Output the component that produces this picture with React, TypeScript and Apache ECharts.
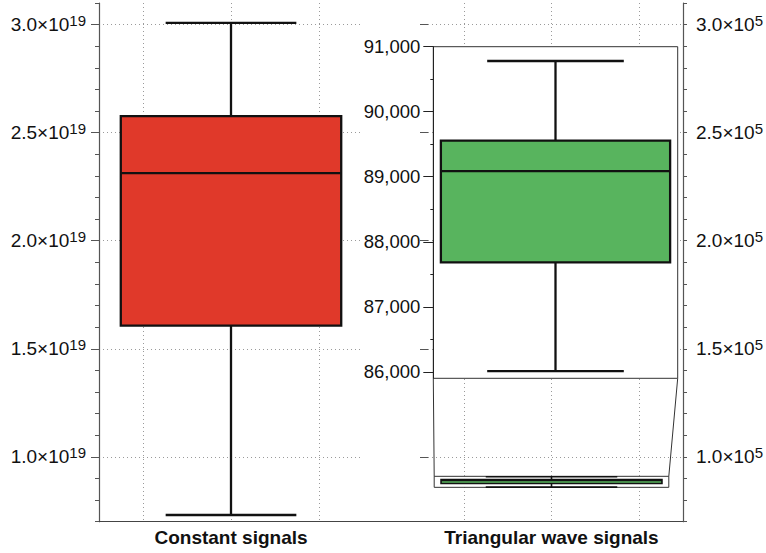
import React, { useEffect, useRef } from 'react';
import * as echarts from 'echarts';

// Category names shown under each panel
const categories = ['Constant signals', 'Triangular wave signals'];

// Box statistics: [minimum, lower quartile, median, upper quartile, maximum]
const constantStats = [0.731e19, 1.607e19, 2.313e19, 2.577e19, 3.008e19];
const triangularStats = [86010, 87683, 89085, 89554, 90780];

// Axis ranges and tick values
const leftRange = [0.7e19, 3.1e19];
const leftMinorStep = 0.1e19;
const leftTicks = [1.0e19, 1.5e19, 2.0e19, 2.5e19, 3.0e19];

const rightRange = [0.7e5, 3.1e5];
const rightMinorStep = 0.1e5;
const rightTicks = [1.0e5, 1.5e5, 2.0e5, 2.5e5, 3.0e5];

const insetRange = [85900, 91000];
const insetTicks = [86000, 87000, 88000, 89000, 90000, 91000];
const insetMinorTicks = [86500, 87500, 88500, 89500, 90500];

// Vertical grid positions on a 0..6 band scale
const bandScale = [0, 6];
const bandGridTicks = [1, 3, 5];

const FONT = '"Liberation Sans", Arial, Helvetica, sans-serif';
const AXIS = '#555';
const GRID = '#9a9a9a';

const W = 766;
const H = 553;
const TOP = 3;
const BOTTOM = 31.3;
const LEFT_PANEL = { left: 99, width: 264 };
const RIGHT_PANEL = { left: 420, width: 263 };
const INSET = { left: 433.3, width: 244.4, top: 46.7, height: 331.6 };
const SOURCE_FRACTION = 0.892;

function sciLabel(v: number) {
  const exp = Math.floor(Math.log10(v) + 1e-9);
  const mant = (v / Math.pow(10, exp)).toFixed(1);
  return `{m|${mant}×10}{e|${exp}}`;
}

const sciRich = {
  m: { fontSize: 19, fontFamily: FONT, color: '#111', lineHeight: 23 },
  e: { fontSize: 15, fontFamily: FONT, color: '#111', lineHeight: 15, verticalAlign: 'top' },
};

function boxRenderer(boxFrac: number, capFrac: number, color: string, lw: number) {
  return (_params: any, api: any) => {
    const cat = api.value(0);
    const lo = api.coord([cat, api.value(1)]);
    const q1 = api.coord([cat, api.value(2)]);
    const med = api.coord([cat, api.value(3)]);
    const q3 = api.coord([cat, api.value(4)]);
    const hi = api.coord([cat, api.value(5)]);
    const band = api.size([1, 0])[0];
    const bw = band * boxFrac;
    const cw = band * capFrac;
    const x = lo[0];
    const stroke = { stroke: '#111', lineWidth: lw };
    return {
      type: 'group',
      children: [
        { type: 'line', shape: { x1: x, y1: hi[1], x2: x, y2: q3[1] }, style: stroke },
        { type: 'line', shape: { x1: x, y1: q1[1], x2: x, y2: lo[1] }, style: stroke },
        { type: 'line', shape: { x1: x - cw / 2, y1: hi[1], x2: x + cw / 2, y2: hi[1] }, style: stroke },
        { type: 'line', shape: { x1: x - cw / 2, y1: lo[1], x2: x + cw / 2, y2: lo[1] }, style: stroke },
        {
          type: 'rect',
          shape: { x: x - bw / 2, y: q3[1], width: bw, height: q1[1] - q3[1] },
          style: { fill: color, stroke: '#111', lineWidth: lw },
        },
        { type: 'line', shape: { x1: x - bw / 2, y1: med[1], x2: x + bw / 2, y2: med[1] }, style: stroke },
      ],
    };
  };
}

function categoryAxis(gridIndex: number, name: string, showLine: boolean) {
  return {
    type: 'category',
    gridIndex,
    data: [name],
    axisLine: { show: showLine, lineStyle: { color: '#666', width: 1.2 } },
    axisTick: { show: false },
    axisLabel: {
      show: showLine,
      margin: 6,
      fontFamily: FONT,
      fontSize: 19,
      fontWeight: 'bold',
      color: '#111',
    },
    splitLine: { show: false },
  };
}

function bandGridAxis(gridIndex: number) {
  return {
    type: 'value',
    gridIndex,
    min: bandScale[0],
    max: bandScale[1],
    axisLine: { show: false },
    axisTick: { show: false, customValues: bandGridTicks },
    axisLabel: { show: false },
    splitLine: { show: true, lineStyle: { color: GRID, type: [1, 3], width: 1 } },
  };
}

function minorAxis(gridIndex: number, position: string, range: number[], step: number) {
  return {
    type: 'value',
    gridIndex,
    position,
    min: range[0],
    max: range[1],
    interval: step,
    axisLine: { show: true, onZero: false, lineStyle: { color: AXIS, width: 1.2 } },
    axisTick: { show: true, length: 4, lineStyle: { color: AXIS } },
    axisLabel: { show: false },
    splitLine: { show: false },
  };
}

function majorAxis(gridIndex: number, position: string, range: number[], ticks: number[]) {
  return {
    type: 'value',
    gridIndex,
    position,
    min: range[0],
    max: range[1],
    axisLine: { show: false },
    axisTick: { show: true, length: 8, customValues: ticks, lineStyle: { color: AXIS } },
    axisLabel: {
      show: true,
      customValues: ticks,
      margin: 13,
      formatter: (v: number) => sciLabel(v),
      rich: sciRich,
    },
    splitLine: { show: true, lineStyle: { color: GRID, type: [1, 3], width: 1 } },
  };
}

export default function App() {
  const ref = useRef<HTMLDivElement>(null);

  useEffect(() => {
    if (!ref.current) return;
    const chart = echarts.init(ref.current, null, { renderer: 'svg' });

    const option: any = {
      animation: false,
      backgroundColor: '#fff',
      grid: [
        { left: LEFT_PANEL.left, width: LEFT_PANEL.width, top: TOP, bottom: BOTTOM },
        { left: RIGHT_PANEL.left, width: RIGHT_PANEL.width, top: TOP, bottom: BOTTOM },
        {
          left: INSET.left,
          width: INSET.width,
          top: INSET.top,
          height: INSET.height,
          show: true,
          backgroundColor: '#fff',
          borderColor: '#333',
          borderWidth: 1,
          z: 3,
        },
        { left: LEFT_PANEL.left, right: W - (RIGHT_PANEL.left + RIGHT_PANEL.width), top: TOP, bottom: BOTTOM },
      ],
      xAxis: [
        categoryAxis(0, categories[0], true),
        bandGridAxis(0),
        categoryAxis(1, categories[1], true),
        bandGridAxis(1),
        { ...categoryAxis(2, categories[1], false), z: 4 },
        {
          type: 'category',
          gridIndex: 3,
          position: 'top',
          data: [''],
          axisLine: { show: true, lineStyle: { color: '#444', width: 1.2 } },
          axisTick: { show: false },
          axisLabel: { show: false },
        },
      ],
      yAxis: [
        minorAxis(0, 'left', leftRange, leftMinorStep),
        majorAxis(0, 'left', leftRange, leftTicks),
        minorAxis(1, 'right', rightRange, rightMinorStep),
        majorAxis(1, 'right', rightRange, rightTicks),
        {
          type: 'value',
          gridIndex: 2,
          position: 'left',
          min: insetRange[0],
          max: insetRange[1],
          z: 4,
          axisLine: { show: true, onZero: false, lineStyle: { color: '#222', width: 1 } },
          axisTick: { show: true, length: 10, customValues: insetTicks, lineStyle: { color: '#222' } },
          axisLabel: {
            show: true,
            customValues: insetTicks,
            margin: 13,
            fontFamily: FONT,
            fontSize: 18.5,
            color: '#111',
            formatter: (v: number) => v.toLocaleString('en-US'),
          },
          splitLine: { show: false },
        },
        {
          type: 'value',
          gridIndex: 2,
          position: 'left',
          min: insetRange[0],
          max: insetRange[1],
          z: 4,
          axisLine: { show: false },
          axisTick: { show: true, length: 3, customValues: insetMinorTicks, lineStyle: { color: '#222' } },
          axisLabel: { show: false },
          splitLine: { show: false },
        },
        { type: 'value', gridIndex: 3, show: false, min: 0, max: 1 },
      ],
      series: [
        {
          type: 'custom',
          name: categories[0],
          xAxisIndex: 0,
          yAxisIndex: 1,
          z: 2,
          renderItem: boxRenderer(0.835, 0.495, '#E0392A', 2.3),
          data: [[0, ...constantStats]],
        },
        {
          type: 'custom',
          name: categories[1],
          xAxisIndex: 2,
          yAxisIndex: 3,
          z: 2,
          renderItem: boxRenderer(0.84, 0.5, '#58B45E', 1.6),
          data: [[0, ...triangularStats]],
        },
        {
          type: 'custom',
          name: categories[1] + ' (detail)',
          xAxisIndex: 4,
          yAxisIndex: 4,
          z: 5,
          renderItem: boxRenderer(0.938, 0.559, '#58B45E', 2.3),
          data: [[0, ...triangularStats]],
        },
      ],
    };

    chart.setOption(option);

    // Zoom-region outline on the main scale and its connectors to the detail panel
    const srcTop = chart.convertToPixel({ yAxisIndex: 3 }, insetRange[1]) as number;
    const srcBottom = chart.convertToPixel({ yAxisIndex: 3 }, insetRange[0]) as number;
    const cx = chart.convertToPixel({ xAxisIndex: 2 }, categories[1]) as number;
    const half = (RIGHT_PANEL.width * SOURCE_FRACTION) / 2;
    const srcLeft = cx - half;
    const srcRight = cx + half;
    const insetBottom = INSET.top + INSET.height;
    const insetLeft = INSET.left;
    const insetRight = INSET.left + INSET.width;
    const lineStyle = { stroke: '#333', lineWidth: 1 };

    chart.setOption({
      graphic: [
        {
          type: 'rect',
          z: 1,
          shape: { x: srcLeft, y: srcTop, width: srcRight - srcLeft, height: srcBottom - srcTop },
          style: { fill: '#fff', stroke: '#333', lineWidth: 1 },
        },
        {
          type: 'line',
          z: 1,
          shape: { x1: insetLeft, y1: insetBottom, x2: srcLeft, y2: srcTop },
          style: lineStyle,
        },
        {
          type: 'line',
          z: 1,
          shape: { x1: insetRight, y1: insetBottom, x2: srcRight, y2: srcTop },
          style: lineStyle,
        },
      ],
    });

    return () => chart.dispose();
  }, []);

  return (
    <div
      ref={ref}
      style={{ position: 'absolute', left: 0, top: 0, width: W, height: H, background: '#fff' }}
    />
  );
}
